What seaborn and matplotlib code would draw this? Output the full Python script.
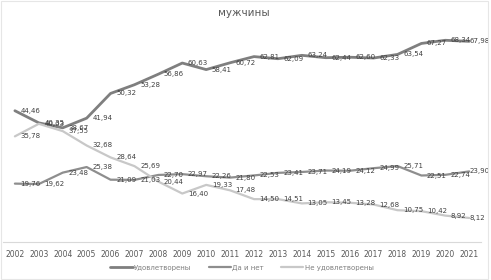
import pandas as pd
import matplotlib
matplotlib.use('Agg')
import matplotlib.pyplot as plt
import seaborn as sns

# Data
years = [str(y) for y in range(2002, 2022)]
satisfied = [44.46, 40.35, 38.67, 41.94, 50.32, 53.28, 56.86, 60.63, 58.41, 60.72,
             62.81, 62.09, 63.24, 62.44, 62.60, 62.33, 63.54, 67.27, 68.34, 67.98]
yes_and_no = [19.76, 19.62, 23.48, 25.38, 21.09, 21.03, 22.70, 22.97, 22.26, 21.80,
              22.53, 23.41, 23.71, 24.19, 24.12, 24.99, 25.71, 22.51, 22.74, 23.90]
not_satisfied = [35.78, 40.03, 37.55, 32.68, 28.64, 25.69, 20.44, 16.40, 19.33, 17.48,
                 14.50, 14.51, 13.05, 13.45, 13.28, 12.68, 10.75, 10.42, 8.92, 8.12]
series_names = ['Удовлетворены', 'Да и нет', 'Не удовлетворены']
title = 'мужчины'

sns.set_style('white')
plt.rcParams['font.family'] = ['DejaVu Sans']

df = pd.DataFrame({'year': years * 3,
                   'value': satisfied + yes_and_no + not_satisfied,
                   'series': [s for s in series_names for _ in years]})
df['pos'] = list(range(len(years))) * 3

colors = {'Удовлетворены': '#7f7f7f', 'Да и нет': '#8e8e8e', 'Не удовлетворены': '#c8c8c8'}
widths = {'Удовлетворены': 2.0, 'Да и нет': 1.6, 'Не удовлетворены': 1.6}

fig = plt.figure(figsize=(4.91, 2.80), dpi=100)
ax = fig.add_axes([0.006, 0.136, 0.974, 0.843])

last = len(years) - 1
for name in series_names:
    sub = df[df['series'] == name]
    sns.lineplot(data=sub, x='pos', y='value', color=colors[name],
                 linewidth=widths[name], ax=ax, label=name)
    for p, v in zip(sub['pos'], sub['value']):
        # Excel pulls the last labels back inside the chart area
        off = 0.5 if p == last else 4
        ax.annotate(f'{v:.2f}'.replace('.', ','), (p, v), xytext=(off, 0),
                    textcoords='offset points', ha='left', va='center',
                    fontsize=5, color='#404040')

ax.set_xlim(-0.5, len(years) - 0.5)
ax.set_ylim(0, 80)
ax.set_xticks(range(len(years)))
ax.set_xticklabels(years, fontsize=5.5, color='#595959')
ax.set_yticks([])
ax.set_xlabel('')
ax.set_ylabel('')
ax.tick_params(axis='x', length=0, pad=6)
for side in ['top', 'left', 'right']:
    ax.spines[side].set_visible(False)
ax.spines['bottom'].set_color('#d9d9d9')
ax.spines['bottom'].set_linewidth(0.8)

fig.text(0.497, 0.952, title, ha='center', va='center', fontsize=7.5, color='#595959')

ax.legend(loc='center', bbox_to_anchor=(0.5, -0.11), ncol=3, frameon=False,
          fontsize=5, labelcolor='#7f7f7f', handlelength=3.2, columnspacing=2.5,
          handletextpad=0.2)

fig.patches.append(plt.Rectangle((0.002, 0.002), 0.991, 0.995, transform=fig.transFigure,
                                 fill=False, edgecolor='#e6e6e6', linewidth=0.8))

fig.savefig('out.png', dpi=100)
